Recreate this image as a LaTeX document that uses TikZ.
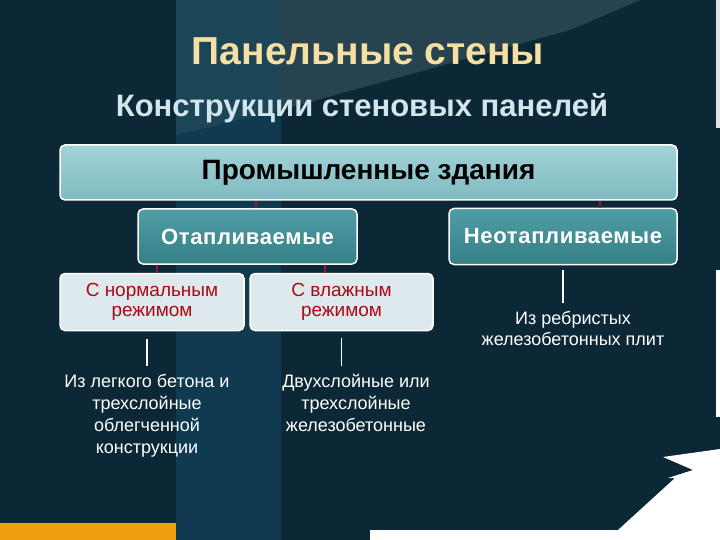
\documentclass[tikz,border=0pt]{standalone}
\usepackage{fontspec}
\setmainfont{Liberation Sans}
\newfontfamily\spacedfont[LetterSpace=3]{Liberation Sans}
\definecolor{bgdark}{HTML}{0C2735}
\definecolor{bgband}{HTML}{0F3A4F}
\definecolor{bggrey}{HTML}{4A6673}
\definecolor{orangebar}{HTML}{EFA00E}
\definecolor{titlegold}{HTML}{F6DFA2}
\definecolor{subblue}{HTML}{D2E5EC}
\definecolor{promtop}{HTML}{A3D3D8}
\definecolor{prombot}{HTML}{7FBAC1}
\definecolor{otaptop}{HTML}{4F9EA5}
\definecolor{otapbot}{HTML}{367F87}
\definecolor{rezhfill}{HTML}{DDE9EC}
\definecolor{rezhred}{HTML}{B00812}
\definecolor{linkred}{HTML}{8E1B33}
\begin{document}
\begin{tikzpicture}[x=1pt,y=-1pt,
    box/.style={draw=white,line width=1.5pt,rounded corners=5pt,inner sep=0pt},
    redlink/.style={draw=linkred,line width=1.6pt},
    whitelink/.style={draw=white,line width=1.6pt},
    note/.style={text=white,align=center,anchor=north,inner sep=0pt}]
\useasboundingbox (0,0) rectangle (720,540);
% background
\fill[bgdark] (0,0) rectangle (720,540);
\fill[bgband] (176,0) rectangle (281,540);
\fill[bggrey,opacity=.45] (281,0)--(640,0)--(570,30)--(281,110)--cycle;
\fill[bggrey,opacity=.25] (176,0)--(281,0)--(281,110)--(176,135)--cycle;
\fill[orangebar] (0,523) rectangle (176,540);
\fill[white] (370,540)--(370,530)--(618,530)--(675,478)--(668,478)--(693,470)--(663,457)--(720,449)--(720,540)--cycle;
\fill[white!80!gray] (716,0) rectangle (720,128);
\fill[white] (716,270) rectangle (720,417);
% headings
\node[text=titlegold,font=\bfseries\fontsize{39}{44}\selectfont] (title) at (368,51) {Панельные стены};
\node[text=subblue,font=\bfseries\fontsize{31}{36}\selectfont] (subtitle) at (362,108) {Конструкции стеновых панелей};
% boxes
\node[box,top color=promtop,bottom color=prombot,minimum width=617pt,minimum height=55pt,
    font=\bfseries\fontsize{28}{32}\selectfont] (prom) at (368.5,172.5) {Промышленные здания};
\node[box,top color=otaptop,bottom color=otapbot,minimum width=219pt,minimum height=55pt,
    text=white,font=\spacedfont\bfseries\fontsize{22}{26}\selectfont] (otap) at (247.5,236.5) {Отапливаемые};
\node[box,top color=otaptop,bottom color=otapbot,minimum width=228pt,minimum height=56pt,
    text=white,font=\spacedfont\bfseries\fontsize{22}{26}\selectfont] (neotap) at (563,236.5) {Неотапливаемые};
\node[box,fill=rezhfill,minimum width=184pt,minimum height=57pt,text=rezhred,align=center,
    font=\fontsize{19}{20}\selectfont] (norm) at (152,302) {С нормальным\\режимом};
\node[box,fill=rezhfill,minimum width=183pt,minimum height=57pt,text=rezhred,align=center,
    font=\fontsize{19}{20}\selectfont] (vlazh) at (341.5,302) {С влажным\\режимом};
% texts
\node[note,font=\fontsize{18}{22}\selectfont] (txtnorm) at (147,374) {Из легкого бетона и\\трехслойные\\облегченной\\конструкции};
\node[note,font=\fontsize{18}{22}\selectfont] (txtvl) at (356,374) {Двухслойные или\\трехслойные\\железобетонные};
\node[note,font=\fontsize{18}{21}\selectfont] (txtneo) at (573,311) {Из ребристых\\железобетонных плит};
% links
\foreach \a/\b/\dx in {prom/otap/8.5, prom/neotap/37, otap/norm/5, otap/vlazh/-16.5}
{
    \draw[redlink]([xshift=\dx pt]\b.north)--([xshift=\dx pt]\b.north |- \a.south);
}
\draw[whitelink,shorten <=8pt,shorten >=8pt](txtnorm.north |- norm.south)--(txtnorm.north);
\draw[whitelink,shorten <=7pt,shorten >=8pt](vlazh.south)--(vlazh.south |- txtvl.north);
\draw[whitelink,shorten <=5pt,shorten >=8pt](neotap.south)--(neotap.south |- txtneo.north);
\end{tikzpicture}
\end{document}
